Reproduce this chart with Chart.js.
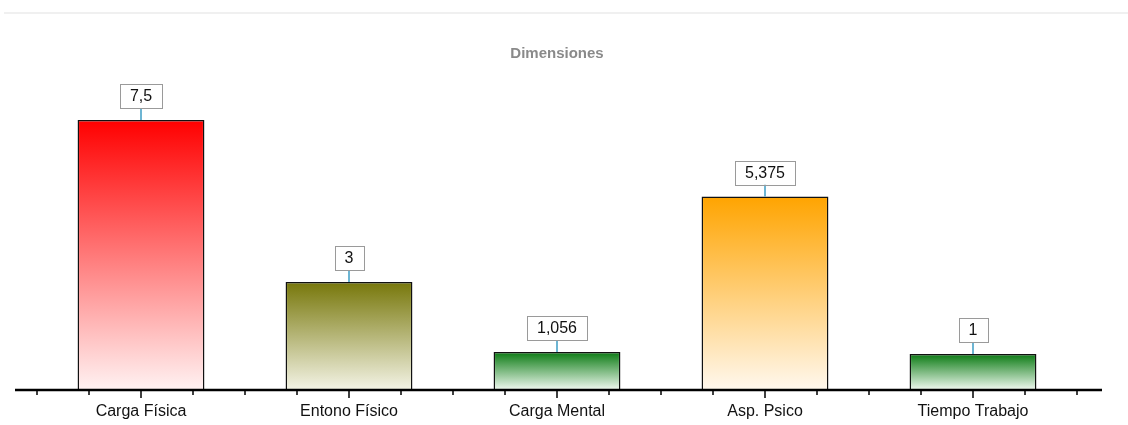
<!DOCTYPE html>
<html>
<head>
<meta charset="utf-8">
<script src="https://cdn.jsdelivr.net/npm/chart.js@4"></script>
<style>
  body { margin: 0; background: #fff; }
  #wrap { position: relative; width: 1128px; height: 425px; }
  #topline { position: absolute; left: 4px; right: 0; top: 12px; border-top: 2px solid #f0f0f0; }
  canvas { display: block; }
</style>
</head>
<body>
<div id="wrap">
  <div id="topline"></div>
  <canvas id="myChart" width="1128" height="425"></canvas>
</div>
<script>
var categories = ['Carga Física', 'Entono Físico', 'Carga Mental', 'Asp. Psico', 'Tiempo Trabajo'];
var values = [7.5, 3, 1.056, 5.375, 1];
var topColors = ['#ff0000', '#77770a', '#0a7a12', '#ffa400', '#0a7a12'];
var bottomColors = ['#fff2f2', '#f4f4e6', '#f2faf2', '#fff8ee', '#f2faf2'];

function fmt(v) {
    return v.toString().replace('.', ',');
}

// axis line with small ticks
var axisPlugin = {
    id: 'axisPlugin',
    afterDatasetsDraw: function(chart) {
        var ctx = chart.ctx;
        var x = chart.scales.x;
        var base = chart.chartArea.bottom;
        ctx.save();
        ctx.strokeStyle = '#000';
        ctx.lineWidth = 2.5;
        ctx.beginPath();
        ctx.moveTo(chart.chartArea.left - 22, base);
        ctx.lineTo(chart.chartArea.right + 25, base);
        ctx.stroke();
        ctx.lineWidth = 1.5;
        for (var k = 0; k <= categories.length * 4; k++) {
            var px = x.getPixelForValue(-0.5 + k / 4);
            var len = (k % 4 === 2) ? 8 : 5;
            ctx.beginPath();
            ctx.moveTo(px, base);
            ctx.lineTo(px, base + len);
            ctx.stroke();
        }
        ctx.restore();
    }
};

// boxed value labels with a short connector
var labelPlugin = {
    id: 'labelPlugin',
    afterDatasetsDraw: function(chart) {
        var ctx = chart.ctx;
        var meta = chart.getDatasetMeta(0);
        ctx.save();
        ctx.font = '16px "Liberation Sans", Arial, sans-serif';
        ctx.textAlign = 'center';
        ctx.textBaseline = 'middle';
        meta.data.forEach(function(bar, i) {
            var txt = fmt(values[i]);
            var w = ctx.measureText(txt).width + 20;
            var h = 24;
            var bottom = bar.y - 12;
            ctx.strokeStyle = '#3d9cc4';
            ctx.lineWidth = 1.5;
            ctx.beginPath();
            ctx.moveTo(bar.x, bar.y);
            ctx.lineTo(bar.x, bottom);
            ctx.stroke();
            ctx.fillStyle = '#fff';
            ctx.fillRect(bar.x - w / 2, bottom - h, w, h);
            ctx.strokeStyle = '#9a9a9a';
            ctx.lineWidth = 1;
            ctx.strokeRect(Math.round(bar.x - w / 2) + 0.5, Math.round(bottom - h) + 0.5, Math.round(w), h);
            ctx.fillStyle = '#111';
            ctx.fillText(txt, bar.x, bottom - h / 2 + 1);
        });
        ctx.restore();
    }
};

var ctx = document.getElementById('myChart').getContext('2d');
var myChart = new Chart(ctx, {
    type: 'bar',
    data: {
        labels: categories,
        datasets: [{
            data: values,
            backgroundColor: function(c) {
                var chart = c.chart;
                if (!chart.chartArea || c.dataIndex === undefined) return topColors[0];
                var y0 = chart.scales.y.getPixelForValue(values[c.dataIndex]);
                var y1 = chart.scales.y.getPixelForValue(0);
                var g = chart.ctx.createLinearGradient(0, y0, 0, y1);
                g.addColorStop(0, topColors[c.dataIndex]);
                g.addColorStop(1, bottomColors[c.dataIndex]);
                return g;
            },
            borderColor: '#111',
            borderWidth: 1.5,
            borderSkipped: 'start',
            categoryPercentage: 1,
            barPercentage: 0.61
        }]
    },
    options: {
        responsive: false,
        animation: false,
        layout: { padding: { top: 30, left: 37, right: 51, bottom: 0 } },
        plugins: {
            legend: { display: false },
            tooltip: { enabled: false },
            title: {
                display: true,
                text: 'Dimensiones',
                color: '#8a8a8a',
                font: { family: '"Liberation Sans", Arial, sans-serif', size: 15, weight: 'bold' },
                padding: { top: 15, bottom: 3 }
            }
        },
        scales: {
            x: {
                grid: { display: false, drawTicks: false, tickLength: 0 },
                border: { display: false },
                afterFit: function(s) { s.height = 35; },
                ticks: {
                    color: '#111',
                    padding: 12,
                    font: { family: '"Liberation Sans", Arial, sans-serif', size: 16 }
                }
            },
            y: {
                display: false,
                min: 0,
                max: 9
            }
        }
    },
    plugins: [axisPlugin, labelPlugin]
});
</script>
</body>
</html>
